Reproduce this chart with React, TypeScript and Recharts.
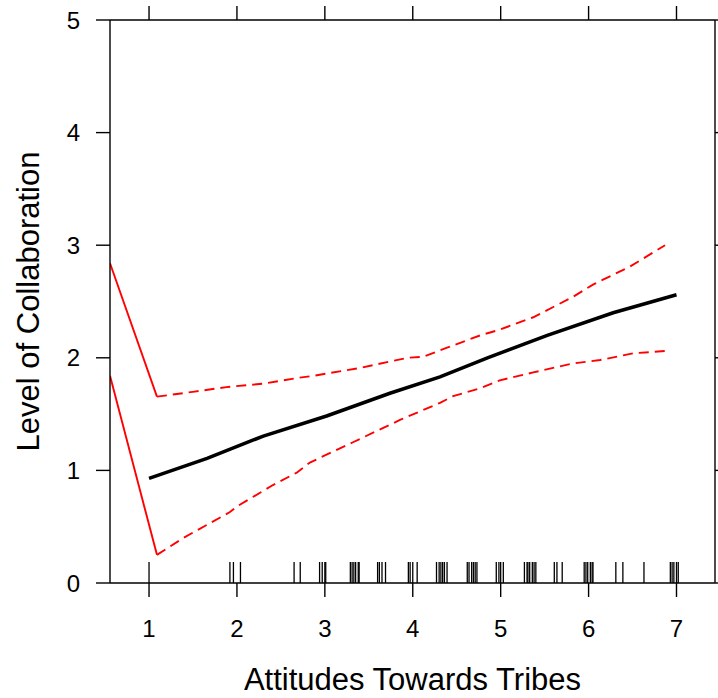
import { ComposedChart, Line, Scatter, XAxis, YAxis } from "recharts";

// fitted effect line
const fitX = [1.0, 1.66, 2.3, 3.02, 3.74, 4.31, 4.85, 5.53, 6.28, 7.0];
const fitY = [0.93, 1.107, 1.305, 1.483, 1.685, 1.83, 2.0, 2.2, 2.4, 2.56];

// confidence band (dashed part)
const upperX = [1.09, 1.52, 1.88, 2.3, 2.68, 2.87, 3.4, 3.94, 4.12, 4.39, 4.77, 4.99, 5.37, 5.82, 6.05, 6.47, 6.87];
const upperY = [1.655, 1.7, 1.74, 1.77, 1.82, 1.84, 1.91, 2.0, 2.01, 2.09, 2.2, 2.25, 2.36, 2.54, 2.65, 2.81, 3.0];
const lowerX = [1.09, 1.39, 1.92, 2.0, 2.41, 2.68, 2.83, 3.32, 3.86, 4.31, 4.46, 4.77, 4.99, 5.37, 5.82, 6.13, 6.51, 6.87];
const lowerY = [0.25, 0.4, 0.63, 0.68, 0.87, 0.98, 1.07, 1.25, 1.45, 1.6, 1.66, 1.73, 1.8, 1.87, 1.95, 1.98, 2.04, 2.06];

// solid red pieces at the left edge
const upperSolidX = [0.556, 1.09];
const upperSolidY = [2.84, 1.655];
const lowerSolidX = [0.556, 1.09];
const lowerSolidY = [1.84, 0.25];

// rug of observed x values
const rugX = [
  1.0, 1.92, 1.96, 2.04, 2.65, 2.72, 2.94, 2.97, 3.0, 3.01,
  3.29, 3.31, 3.33, 3.35, 3.38, 3.39, 3.6, 3.62, 3.65, 3.69,
  3.95, 3.97, 4.0, 4.05, 4.27, 4.3, 4.32, 4.34, 4.36, 4.39,
  4.62, 4.64, 4.67, 4.69, 4.71, 4.73, 4.95, 4.98, 5.0, 5.03,
  5.27, 5.3, 5.31, 5.33, 5.36, 5.38, 5.4, 5.61, 5.64, 5.7,
  5.95, 5.97, 5.99, 6.02, 6.04, 6.05, 6.31, 6.39, 6.63,
  6.93, 6.95, 6.97, 7.0, 7.02,
];

const xTicks = [1, 2, 3, 4, 5, 6, 7];
const yTicks = [0, 1, 2, 3, 4, 5];

const zip = (xs: number[], ys: number[]) => xs.map((x, i) => ({ x, y: ys[i] }));

const fitData = zip(fitX, fitY);
const upperData = zip(upperX, upperY);
const lowerData = zip(lowerX, lowerY);
const upperSolid = zip(upperSolidX, upperSolidY);
const lowerSolid = zip(lowerSolidX, lowerSolidY);
const rugData = rugX.map((x) => ({ x, y: 0 }));

const FONT = "'Liberation Sans', Arial, sans-serif";
const X_DOMAIN: [number, number] = [0.556, 7.438];
const Y_DOMAIN: [number, number] = [0, 5];
const AXIS_LINE = { stroke: "#000", strokeWidth: 1.4 };
const TICK_LINE = { stroke: "#000", strokeWidth: 1.4 };

const RugMark = (props: any) => {
  const { cx, cy } = props;
  return <line x1={cx} x2={cx} y1={cy} y2={cy - 21} stroke="#000" strokeWidth={1.3} />;
};

const noTick = () => <g />;

export default function App() {
  return (
    <div style={{ position: "absolute", left: 0, top: 0 }}>
      <ComposedChart width={718} height={698} margin={{ top: 19, right: 0, bottom: 0, left: 0 }}>
        <XAxis
          xAxisId="b"
          dataKey="x"
          type="number"
          domain={X_DOMAIN}
          ticks={xTicks}
          allowDataOverflow
          height={115}
          tickSize={14}
          tickMargin={23}
          axisLine={AXIS_LINE}
          tickLine={TICK_LINE}
          tick={{ fill: "#000", fontSize: 24, fontFamily: FONT }}
          label={{
            content: ({ viewBox }: any) => (
              <text
                x={viewBox.x + viewBox.width / 2}
                y={viewBox.y + 107}
                textAnchor="middle"
                fontSize={31}
                fontFamily={FONT}
                fill="#000"
              >
                Attitudes Towards Tribes
              </text>
            ),
          }}
        />
        <XAxis
          xAxisId="t"
          orientation="top"
          dataKey="x"
          type="number"
          domain={X_DOMAIN}
          ticks={xTicks}
          allowDataOverflow
          height={1}
          tickSize={14}
          axisLine={AXIS_LINE}
          tickLine={TICK_LINE}
          tick={noTick}
        />
        <YAxis
          yAxisId="l"
          type="number"
          domain={Y_DOMAIN}
          ticks={yTicks}
          allowDataOverflow
          width={110}
          tickSize={14}
          tickMargin={16}
          axisLine={AXIS_LINE}
          tickLine={TICK_LINE}
          tick={{ fill: "#000", fontSize: 24, fontFamily: FONT }}
          label={{
            content: ({ viewBox }: any) => {
              const cx = viewBox.x + 28;
              const cy = viewBox.y + viewBox.height / 2;
              return (
                <text
                  x={cx}
                  y={cy}
                  transform={`rotate(-90, ${cx}, ${cy})`}
                  textAnchor="middle"
                  dominantBaseline="central"
                  fontSize={31}
                  fontFamily={FONT}
                  fill="#000"
                >
                  Level of Collaboration
                </text>
              );
            },
          }}
        />
        <YAxis
          yAxisId="r"
          orientation="right"
          type="number"
          domain={Y_DOMAIN}
          ticks={yTicks}
          allowDataOverflow
          width={3}
          tickSize={14}
          axisLine={AXIS_LINE}
          tickLine={TICK_LINE}
          tick={noTick}
        />
        <Scatter
          xAxisId="b"
          yAxisId="l"
          data={rugData}
          dataKey="y"
          shape={RugMark}
          isAnimationActive={false}
        />
        <Line xAxisId="b" yAxisId="l" data={upperSolid} dataKey="y" type="linear" stroke="#ff0000" strokeWidth={1.9} dot={false} activeDot={false} isAnimationActive={false} />
        <Line xAxisId="b" yAxisId="l" data={lowerSolid} dataKey="y" type="linear" stroke="#ff0000" strokeWidth={1.9} dot={false} activeDot={false} isAnimationActive={false} />
        <Line xAxisId="b" yAxisId="l" data={upperData} dataKey="y" type="linear" stroke="#ff0000" strokeWidth={1.9} strokeDasharray="10 6" dot={false} activeDot={false} isAnimationActive={false} />
        <Line xAxisId="b" yAxisId="l" data={lowerData} dataKey="y" type="linear" stroke="#ff0000" strokeWidth={1.9} strokeDasharray="10 6" dot={false} activeDot={false} isAnimationActive={false} />
        <Line xAxisId="b" yAxisId="l" data={fitData} dataKey="y" type="linear" stroke="#000" strokeWidth={3.5} dot={false} activeDot={false} isAnimationActive={false} />
      </ComposedChart>
    </div>
  );
}
